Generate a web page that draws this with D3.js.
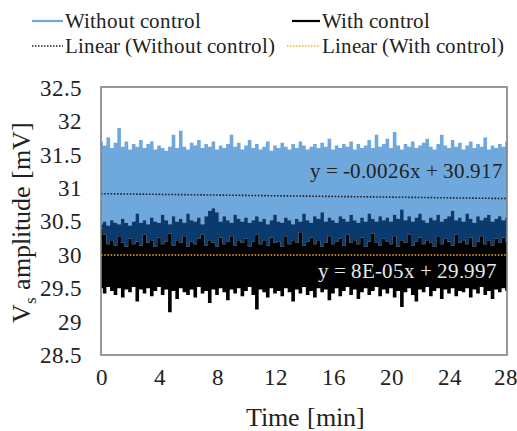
<!DOCTYPE html>
<html><head><meta charset="utf-8">
<script src="https://cdn.jsdelivr.net/npm/d3@7"></script>
<style>
@font-face { font-family: "ChartSerif"; src: local("Liberation Serif"), local("LiberationSerif-Regular"), local("LiberationSerif"); }
</style>
</head><body style="margin:0">
<svg id="c" width="517" height="431"></svg>
<script>
// time axis (minutes) and tick labels
const sampleStep = 0.25;
const xTicks = [0, 4, 8, 12, 16, 20, 24, 28];
const yTicks = [28.5, 29, 29.5, 30, 30.5, 31, 31.5, 32, 32.5];

// "Without control" signal: upper and lower envelope [mV]
const withoutUpper = [
31.70,31.64,31.76,31.60,31.68,31.90,31.62,31.70,31.58,31.66,
31.62,31.72,31.60,31.66,31.70,31.58,31.64,31.60,31.56,31.62,
31.80,31.60,31.86,31.62,31.58,31.68,31.64,31.72,31.60,31.66,
31.62,31.70,31.58,31.64,31.60,31.66,31.80,31.62,31.68,31.58,
31.64,31.72,31.60,31.66,31.58,31.62,31.70,31.56,31.64,31.60,
31.68,31.62,31.58,31.66,31.60,31.70,31.64,31.58,31.62,31.66,
31.60,31.68,31.62,31.74,31.58,31.64,31.60,31.66,31.62,31.70,
31.58,31.66,31.60,31.64,31.72,31.60,31.80,31.62,31.66,31.74,
31.60,31.84,31.64,31.58,31.66,31.62,31.70,31.60,31.64,31.68,
31.74,31.62,31.58,31.66,31.80,31.64,31.60,31.72,31.62,31.68,
31.58,31.64,31.70,31.60,31.66,31.62,31.76,31.58,31.64,31.60,
31.66,31.62,31.70];
const withoutLower = [
30.46,30.50,30.44,30.52,30.48,30.46,30.54,30.48,30.44,30.50,
30.62,30.48,30.52,30.46,30.56,30.50,30.48,30.60,30.52,30.46,
30.58,30.50,30.54,30.48,30.62,30.52,30.50,30.56,30.46,30.58,
30.66,30.70,30.64,30.50,30.58,30.52,30.48,30.60,30.54,30.50,
30.56,30.48,30.52,30.58,30.50,30.54,30.46,30.52,30.60,30.50,
30.48,30.56,30.52,30.46,30.54,30.50,30.62,30.52,30.48,30.58,
30.54,30.64,30.50,30.56,30.52,30.48,30.58,30.54,30.50,30.60,
30.52,30.48,30.56,30.50,30.62,30.54,30.50,30.58,30.52,30.56,
30.50,30.60,30.54,30.68,30.52,30.58,30.50,30.56,30.62,30.52,
30.48,30.56,30.52,30.60,30.50,30.54,30.58,30.66,30.52,30.56,
30.50,30.62,30.54,30.48,30.58,30.52,30.56,30.60,30.50,30.54,
30.58,30.52,30.56];
// "With control" signal: upper and lower envelope [mV]
const withUpper = [
30.40,30.30,30.16,30.22,30.14,30.28,30.18,30.12,30.24,30.16,
30.20,30.14,30.30,30.18,30.22,30.12,30.26,30.16,30.20,30.32,
30.14,30.22,30.18,30.28,30.12,30.20,30.16,30.24,30.30,30.14,
30.22,30.18,30.12,30.26,30.16,30.20,30.28,30.14,30.22,30.18,
30.24,30.12,30.20,30.30,30.16,30.22,30.14,30.26,30.18,30.20,
30.12,30.28,30.16,30.22,30.18,30.34,30.14,30.20,30.26,30.16,
30.22,30.12,30.18,30.28,30.16,30.20,30.24,30.14,30.30,30.18,
30.22,30.16,30.26,30.12,30.20,30.32,30.18,30.14,30.24,30.20,
30.16,30.28,30.12,30.22,30.18,30.30,30.14,30.20,30.26,30.16,
30.22,30.18,30.12,30.28,30.16,30.24,30.20,30.14,30.30,30.18,
30.22,30.16,30.26,30.12,30.20,30.28,30.16,30.22,30.14,30.24,
30.18,30.26,30.20];
const withLower = [
29.50,29.42,29.52,29.46,29.40,29.50,29.36,29.48,29.44,29.52,
29.30,29.48,29.42,29.50,29.38,29.46,29.52,29.40,29.48,29.14,
29.46,29.34,29.50,29.44,29.40,29.48,29.36,29.52,29.42,29.46,
29.28,29.48,29.40,29.50,29.44,29.32,29.48,29.42,29.50,29.38,
29.46,29.52,29.40,29.18,29.48,29.44,29.36,29.50,29.42,29.46,
29.38,29.50,29.44,29.30,29.48,29.42,29.52,29.40,29.46,29.36,
29.50,29.44,29.48,29.32,29.42,29.50,29.38,29.46,29.52,29.40,
29.48,29.34,29.44,29.50,29.40,29.46,29.52,29.38,29.48,29.42,
29.50,29.36,29.46,29.22,29.44,29.50,29.40,29.30,29.48,29.44,
29.52,29.38,29.46,29.50,29.34,29.48,29.42,29.50,29.38,29.46,
29.44,29.50,29.36,29.48,29.42,29.52,29.40,29.46,29.34,29.48,
29.44,29.50,29.46];

// linear trendlines (as printed on the chart)
const trendWithout = {slope: -0.0026, intercept: 30.917, label: "y = -0.0026x + 30.917"};
const trendWith = {slope: 0.00008, intercept: 29.997, label: "y = 8E-05x + 29.997"};

const FONTCSS = "font-family: ChartSerif, 'Liberation Serif', serif";
const svg = d3.select("#c");
const L = 101, R = 507, T = 88, B = 355;
const x = d3.scaleLinear().domain([0, 28]).range([L, R]);
const y = d3.scaleLinear().domain([28.5, 32.5]).range([B, T]);
const times = withoutUpper.map((_, i) => i * sampleStep);

function label(px, py, size, txt, fill, anchor) {
  return svg.append("text").attr("style", FONTCSS).attr("x", px).attr("y", py)
    .attr("font-size", size).attr("fill", fill || "#222").attr("text-anchor", anchor || "start").text(txt);
}

const band = (top, bot) => d3.area().curve(d3.curveStep)
  .x((d, i) => x(times[i])).y0((d, i) => y(bot[i])).y1((d, i) => y(top[i]))(top);

svg.append("path").attr("d", band(withoutUpper, withoutLower)).attr("fill", "#6fa8dc");
svg.append("path").attr("d", band(withoutLower, withUpper)).attr("fill", "#0b3a6e");
svg.append("path").attr("d", band(withUpper, withLower)).attr("fill", "#000");

// trendlines
[[trendWithout, "#222"], [trendWith, "#e8a020"]].forEach(([t, c]) => {
  svg.append("line").attr("x1", x(0)).attr("x2", x(28))
    .attr("y1", y(t.intercept)).attr("y2", y(t.intercept + t.slope * 28))
    .attr("stroke", c).attr("stroke-width", 1.6).attr("stroke-dasharray", "1.6,1.6");
});
label(310, 178, 20.5, trendWithout.label);
label(318, 278, 20.5, trendWith.label, "#e8e8e8");

// frame
svg.append("rect").attr("x", L).attr("y", T - 1).attr("width", R - L).attr("height", B - T + 1)
  .attr("fill", "none").attr("stroke", "#808080").attr("stroke-width", 1.6);

// axes (no tick marks in the reference)
const yAxis = svg.append("g").attr("transform", `translate(${L},0)`)
  .call(d3.axisLeft(y).tickValues(yTicks).tickSize(0).tickPadding(19).tickFormat(d3.format("")));
const xAxis = svg.append("g").attr("transform", `translate(0,${B})`)
  .call(d3.axisBottom(x).tickValues(xTicks).tickSize(0).tickPadding(14));
[yAxis, xAxis].forEach(g => {
  g.attr("font-family", null).attr("font-size", 23);
  g.select(".domain").remove();
  g.selectAll("text").attr("fill", "#222").attr("style", FONTCSS);
});
xAxis.selectAll(".tick text").filter(d => d === 28).attr("text-anchor", "end").attr("dx", "0.45em");

label(305, 426, 26, "Time [min]", "#222", "middle");
const yt = svg.append("text").attr("style", FONTCSS).attr("transform", "translate(30,222) rotate(-90)")
  .attr("text-anchor", "middle").attr("font-size", 26).attr("fill", "#222");
yt.append("tspan").text("V");
yt.append("tspan").attr("font-size", 17).attr("dy", 6).text("s");
yt.append("tspan").attr("dy", -6).text(" amplitude [mV]");

// legend
const legend = [
  {label: "Without control", color: "#6fa8dc", dash: null, x0: 32, x1: 63, tx: 65, ty: 28},
  {label: "With control", color: "#000", dash: null, x0: 292, x1: 320, tx: 322, ty: 28},
  {label: "Linear (Without control)", color: "#222", dash: "1.5,1.5", x0: 32, x1: 63, tx: 65, ty: 53},
  {label: "Linear (With control)", color: "#f0b030", dash: "1.5,1.5", x0: 287, x1: 320, tx: 322, ty: 53}
];
legend.forEach(d => {
  svg.append("line").attr("x1", d.x0).attr("x2", d.x1).attr("y1", d.ty - 7).attr("y2", d.ty - 7)
    .attr("stroke", d.color).attr("stroke-width", d.dash ? 1.5 : 2.2).attr("stroke-dasharray", d.dash);
  label(d.tx, d.ty, 21, d.label);
});
</script></body></html>
